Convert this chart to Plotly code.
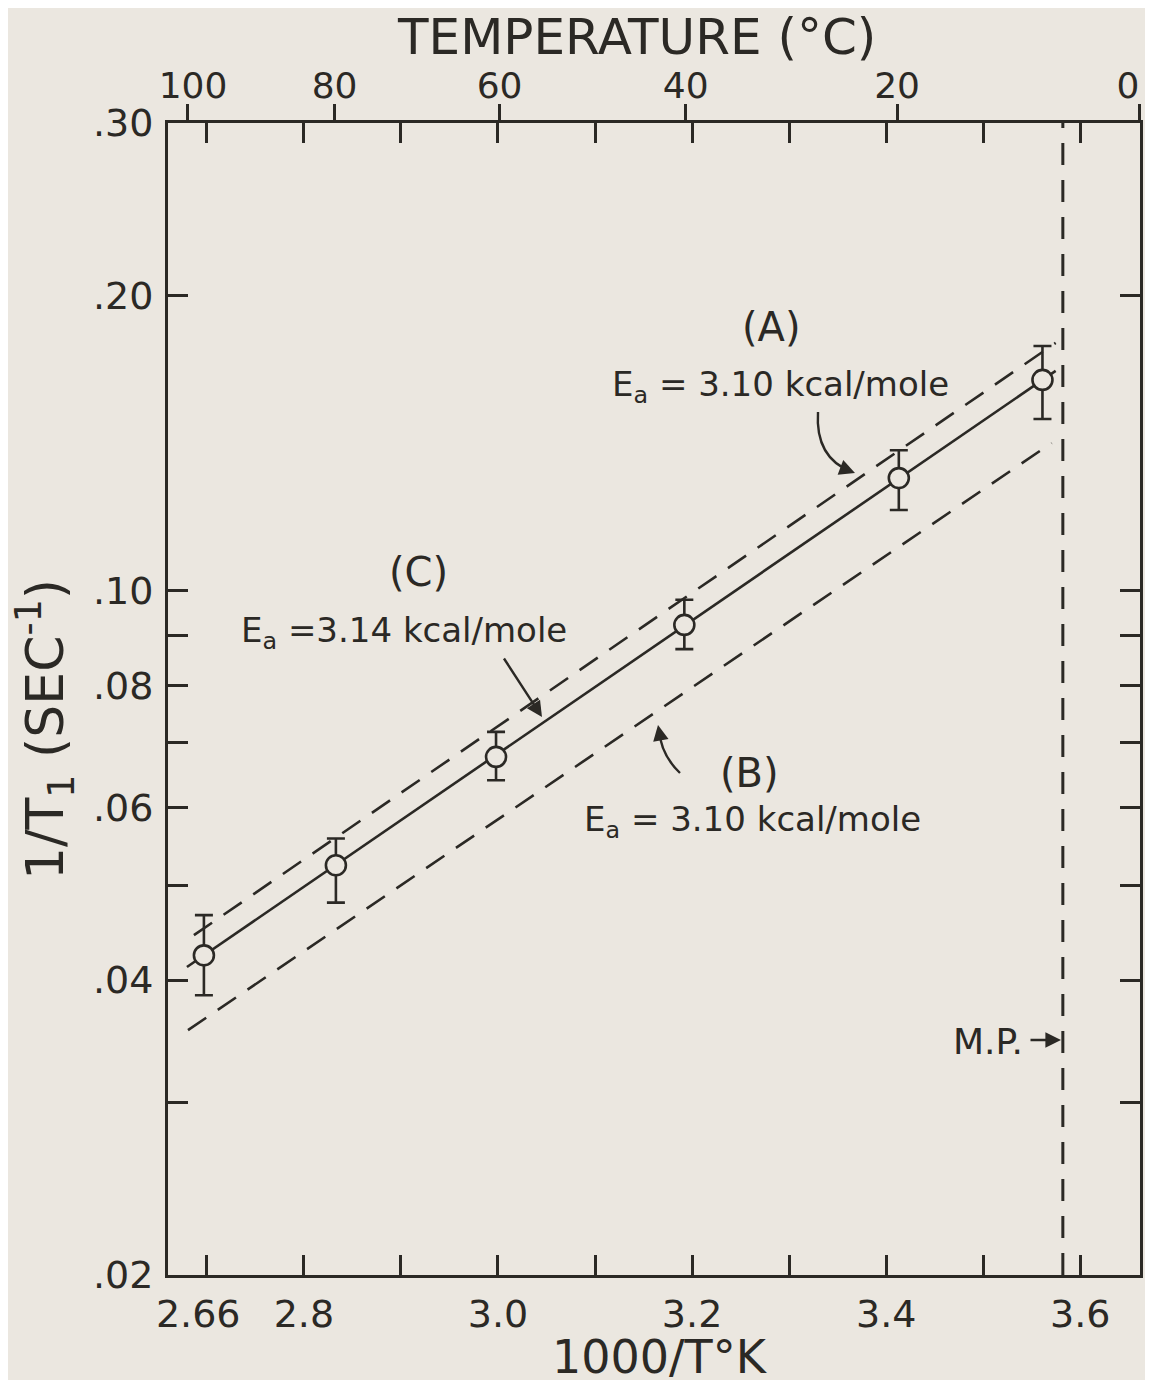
import numpy as np
import plotly.graph_objects as go

# ---------------- data ----------------
inv_temp = [2.697, 2.833, 2.998, 3.192, 3.413, 3.561]          # 1000/T (K^-1)
rate = [0.0424, 0.0524, 0.0676, 0.0922, 0.1302, 0.1640]         # 1/T1 (sec^-1)
err_plus = [0.0042, 0.0034, 0.0041, 0.0056, 0.0088, 0.0136]
err_minus = [0.0038, 0.0044, 0.0036, 0.0051, 0.0094, 0.0144]

line_a_x = [2.6795, 3.5746]
line_a_y = [0.04125, 0.1675]
line_c_x = [2.6867, 3.5746]
line_c_y = [0.04446, 0.1789]
line_b_x = [2.6806, 3.5705]
line_b_y = [0.03557, 0.1414]

melting_point_x = 3.582

x_tickvals = [2.66, 2.7, 2.8, 2.9, 3.0, 3.1, 3.2, 3.3, 3.4, 3.5, 3.6]
x_ticktext = ["\u00a0\u00a0\u00a0\u00a0\u00a02.66", "", "2.8", "", "3.0", "", "3.2", "", "3.4", "", "3.6"]
y_tickvals = [0.02, 0.03, 0.04, 0.05, 0.06, 0.07, 0.08, 0.09, 0.10, 0.20, 0.30]
y_ticktext = [".02", "", ".04", "", ".06", "", ".08", "", ".10", ".20", ".30"]
temp_c = [100, 80, 60, 40, 20, 0]
temp_ticktext = ["\u00a0100", "80", "60", "40", "20", "0\u00a0\u00a0"]

# ---------------- style ----------------
INK = "#2b2925"
PAPER = "#ebe7e0"
FONT = "DejaVu Sans"
# the page body adds an 8px margin; the plot area is placed at screen x 168..1140, y 123..1275
W, H = 1137, 1372
ML, MR, MT, MB = 160, 5, 115, 105
SX0, SY1 = 168, 1275
PW, PH = W - ML - MR, H - MT - MB

X_RANGE = [2.66, 3.6615]


def fx(px):
    return (px - SX0) / PW


def fy(py):
    return (SY1 - py) / PH


fig = go.Figure()

dash = "22px,14px"
fig.add_trace(go.Scatter(x=line_c_x, y=line_c_y, mode="lines",
                         line=dict(color=INK, width=2.6, dash=dash), showlegend=False))
fig.add_trace(go.Scatter(x=line_b_x, y=line_b_y, mode="lines",
                         line=dict(color=INK, width=2.6, dash=dash), showlegend=False))
fig.add_trace(go.Scatter(x=line_a_x, y=line_a_y, mode="lines",
                         line=dict(color=INK, width=2.6), showlegend=False))
fig.add_trace(go.Scatter(
    x=inv_temp, y=rate, mode="markers",
    marker=dict(symbol="circle", size=20, color=PAPER, line=dict(color=INK, width=2.6)),
    error_y=dict(type="data", array=err_plus, arrayminus=err_minus, symmetric=False,
                 color=INK, thickness=2.6, width=9),
    showlegend=False))

# melting point line
fig.add_shape(type="line", xref="x", yref="paper", x0=melting_point_x, x1=melting_point_x,
              y0=0, y1=1, line=dict(color=INK, width=3, dash="22px,15px"))

# temperature axis positions (conversion of deg C to 1000/T)
temp_pos = [1000.0 / (t + 273.15) for t in temp_c]

tickfont = dict(family=FONT, size=38, color=INK)
fig.update_layout(
    width=W, height=H,
    margin=dict(l=ML, r=MR, t=MT, b=MB, autoexpand=False),
    paper_bgcolor=PAPER, plot_bgcolor=PAPER,
    font=dict(family=FONT, color=INK),
    xaxis=dict(range=X_RANGE, tickvals=x_tickvals, ticktext=x_ticktext, automargin=False,
               ticks="inside", ticklen=20, tickwidth=2.6, tickcolor=INK,
               showline=True, linewidth=3, linecolor=INK, mirror="ticks",
               showgrid=False, zeroline=False, tickfont=tickfont, ticklabelstandoff=3),
    xaxis2=dict(overlaying="x", side="top", anchor="y", range=X_RANGE, automargin=False,
                tickvals=temp_pos, ticktext=temp_ticktext, ticklabeloverflow="allow",
                ticks="outside", ticklen=18, tickwidth=2.6, tickcolor=INK,
                showline=False, showgrid=False, zeroline=False,
                tickfont=dict(family=FONT, size=36, color=INK), ticklabelstandoff=-8),
    yaxis=dict(type="log", range=[np.log10(0.02), np.log10(0.30)], automargin=False,
               tickvals=y_tickvals, ticktext=y_ticktext,
               ticks="inside", ticklen=20, tickwidth=2.6, tickcolor=INK,
               showline=True, linewidth=3, linecolor=INK, mirror="ticks",
               showgrid=False, zeroline=False, tickfont=tickfont, ticklabelstandoff=4),
)

# a trace on the top axis so it is drawn
fig.add_trace(go.Scatter(x=temp_pos, y=[None] * len(temp_pos), xaxis="x2", yaxis="y",
                         mode="markers", showlegend=False, hoverinfo="skip"))

ann = []


def text(px, py, s, size, **kw):
    d = dict(x=fx(px), y=fy(py), xref="paper", yref="paper", text=s, showarrow=False,
             font=dict(family=FONT, size=size, color=INK), xanchor="center", yanchor="middle")
    d.update(kw)
    ann.append(d)


def head(px, py, dx, dy):
    ann.append(dict(x=fx(px), y=fy(py), xref="paper", yref="paper", text="", showarrow=True,
                    ax=dx, ay=dy, arrowhead=2, arrowsize=1.3, arrowwidth=2.4, arrowcolor=INK,
                    standoff=0))


# axis titles
text(636, 37, "TEMPERATURE (°C)", 50)
text(660, 1357, "1000/T°K", 46)
text(45, 730, "1/T<sub>1</sub> (SEC<sup>-1</sup>)", 52, textangle=-90)

# curve labels
text(771, 327, "(A)", 40)
text(780, 386, "E<sub>a</sub> = 3.10 kcal/mole", 34)
text(418, 572, "(C)", 40)
text(404, 632, "E<sub>a</sub> =3.14 kcal/mole", 34)
text(749, 773, "(B)", 40)
text(752, 822, "E<sub>a</sub> = 3.10 kcal/mole", 34)
text(988, 1041, "M.P.", 36)

# arrows
fig.add_shape(type="path", xref="paper", yref="paper",
              path=f"M {fx(818)},{fy(412)} Q {fx(815)},{fy(458)} {fx(852)},{fy(472)}",
              line=dict(color=INK, width=2.4))
head(855, 473, -13, -5)
head(542, 717, -39, -60)
fig.add_shape(type="path", xref="paper", yref="paper",
              path=f"M {fx(680)},{fy(773)} Q {fx(661)},{fy(755)} {fx(659)},{fy(730)}",
              line=dict(color=INK, width=2.4))
head(658, 725, 3, 16)
head(1061, 1040, -32, 0)

fig.update_layout(annotations=ann)

fig.write_html("out.html")
